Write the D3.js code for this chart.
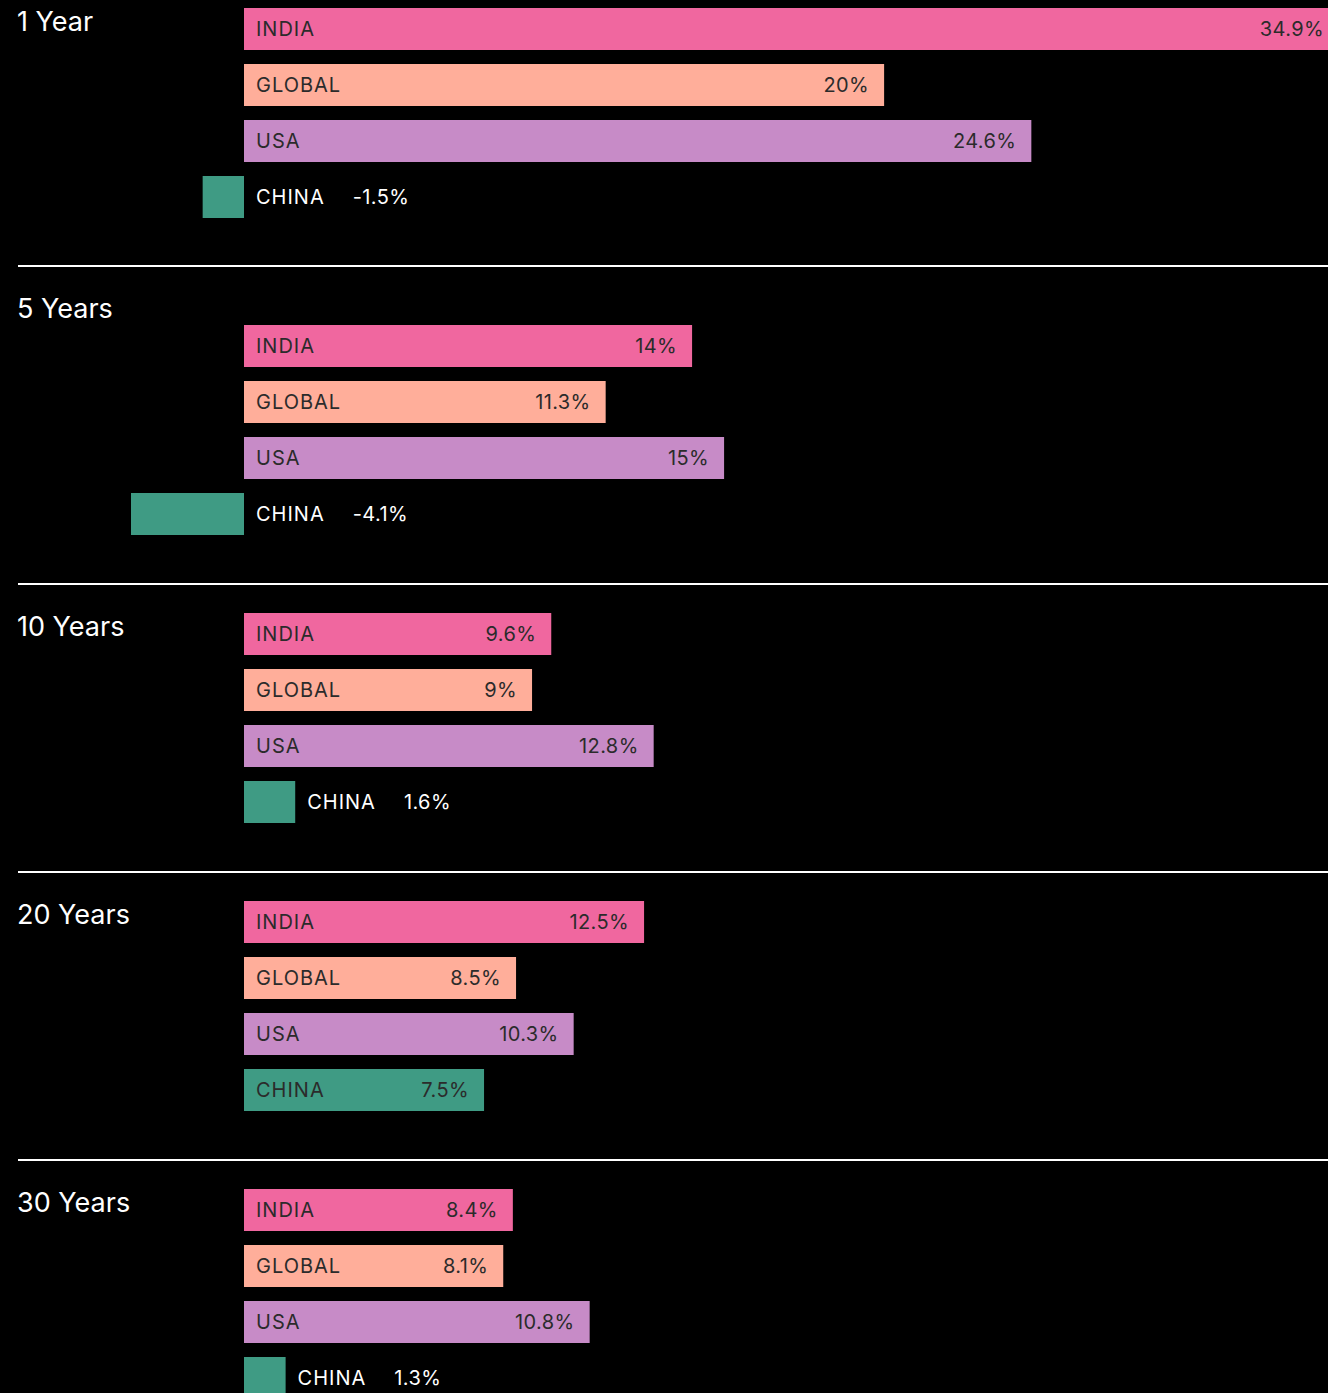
<!DOCTYPE html>
<html>
<head>
<meta charset="utf-8">
<script src="https://cdn.jsdelivr.net/npm/d3@7"></script>
<style>
  html, body { margin: 0; padding: 0; background: #000; overflow: hidden; }
  svg { display: block; }
  text { font-family: Inter, "Noto Sans", sans-serif; }
</style>
</head>
<body>
<svg id="chart" width="1328" height="1393"></svg>
<script>
const periods = ["1 Year", "5 Years", "10 Years", "20 Years", "30 Years"];
const regions = ["INDIA", "GLOBAL", "USA", "CHINA"];
const india  = [34.9, 14, 9.6, 12.5, 8.4];
const global = [20, 11.3, 9, 8.5, 8.1];
const usa    = [24.6, 15, 12.8, 10.3, 10.8];
const china  = [-1.5, -4.1, 1.6, 7.5, 1.3];
const colors = ["#f0679f", "#ffae9a", "#c78bc7", "#3f9b84"];

const series = [india, global, usa, china];
const W = 1328, H = 1393;
const svg = d3.select("#chart");

const all = series.flat();
const x = d3.scaleLinear()
  .domain([d3.min(all), 0, d3.max(all)])
  .range([131, 244, 1361]);

const color = d3.scaleOrdinal().domain(regions).range(colors);
const y = d3.scaleBand().domain(regions).range([0, 210]).paddingInner(0.25).paddingOuter(0);

// layout
const groupBarTop = [];
const separatorY = [];
let curTop = 8;
periods.forEach((p, i) => {
  const extra = (i === 1) ? 30 : 0;
  if (i > 0) curTop = separatorY[i - 1] + 29 + extra;
  groupBarTop.push(curTop);
  separatorY.push(curTop + (i === 0 ? 258 : 259));
});
const titleY = periods.map((p, i) => i === 0 ? 31 : separatorY[i - 1] + 52);

const fmt = v => `${v}%`;

periods.forEach((p, i) => {
  const g = svg.append("g").attr("transform", `translate(0,${groupBarTop[i]})`);
  svg.append("text")
    .attr("x", 17).attr("y", titleY[i])
    .attr("fill", "#fff").attr("font-size", 27)
    .text(p);

  if (i < periods.length - 1) {
    svg.append("line")
      .attr("x1", 18).attr("x2", W)
      .attr("y1", separatorY[i]).attr("y2", separatorY[i])
      .attr("stroke", "#fff").attr("stroke-width", 2);
  }

  const rows = regions.map((r, j) => ({ r, v: series[j][i] }));
  const row = g.selectAll("g.row").data(rows).join("g")
    .attr("class", "row")
    .attr("transform", d => `translate(0,${y(d.r)})`);

  row.append("rect")
    .attr("x", d => Math.min(x(0), x(d.v)))
    .attr("width", d => Math.abs(x(d.v) - x(0)))
    .attr("height", y.bandwidth())
    .attr("fill", d => color(d.r));

  row.each(function(d) {
    const sel = d3.select(this);
    const w = x(d.v) - x(0);
    const cy = y.bandwidth() / 2;
    if (d.v >= 0 && w >= 120) {
      sel.append("text")
        .attr("x", x(0) + 12).attr("y", cy).attr("dy", "0.36em")
        .attr("fill", "#2b2b2b").attr("font-size", 20)
        .attr("letter-spacing", 1)
        .text(d.r);
      sel.append("text")
        .attr("x", Math.min(x(d.v) - 15, W - 4)).attr("y", cy).attr("dy", "0.36em")
        .attr("text-anchor", "end")
        .attr("fill", "#2b2b2b").attr("font-size", 20)
        .attr("letter-spacing", 0.4)
        .text(fmt(d.v));
    } else {
      const startX = d.v >= 0 ? x(d.v) + 12 : x(0) + 12;
      const t = sel.append("text")
        .attr("x", startX).attr("y", cy).attr("dy", "0.36em")
        .attr("fill", "#fff").attr("font-size", 20)
        .attr("letter-spacing", 1)
        .text(d.r);
      const tw = t.node().getComputedTextLength();
      sel.append("text")
        .attr("x", startX + tw + 28).attr("y", cy).attr("dy", "0.36em")
        .attr("fill", "#fff").attr("font-size", 20)
        .attr("letter-spacing", 0.4)
        .text(fmt(d.v));
    }
  });
});
</script>
</body>
</html>
